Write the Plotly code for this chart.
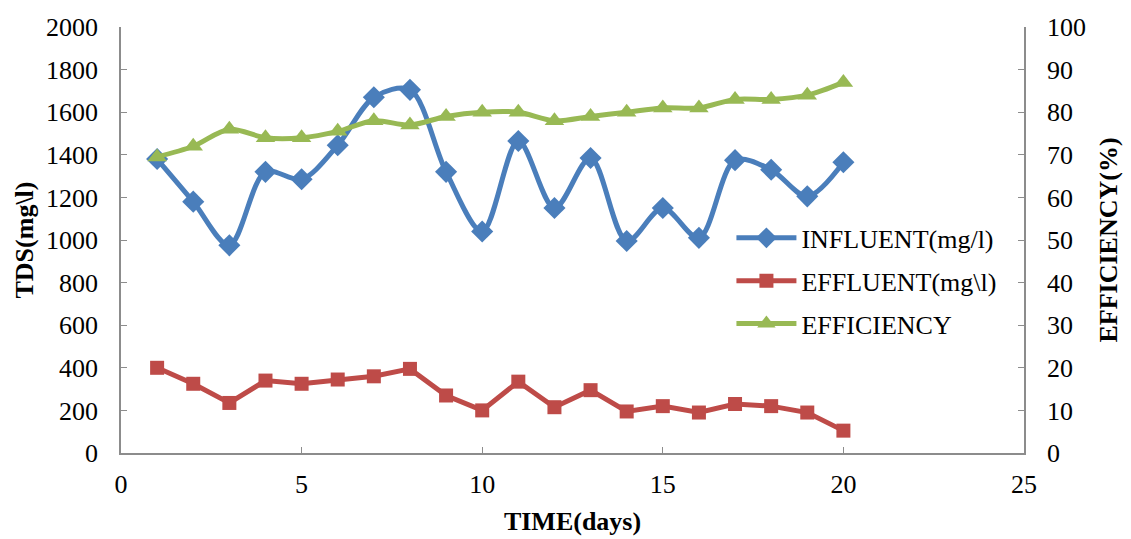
import plotly.graph_objects as go

# Daily TDS measurements and removal efficiency
days = list(range(1, 21))
influent = [1380, 1180, 975, 1320, 1285, 1445, 1670, 1705, 1320, 1040,
            1465, 1150, 1385, 995, 1150, 1010, 1375, 1330, 1205, 1365]
effluent = [400, 325, 235, 340, 325, 345, 360, 395, 270, 200,
            335, 215, 295, 195, 220, 190, 230, 220, 190, 105]
efficiency = [69.5, 72, 76, 74, 74, 75.5, 78, 77, 79, 80,
              80, 78, 79, 80, 81, 81, 83, 83, 84, 87]

FONT = "Liberation Serif, Times New Roman, DejaVu Serif, serif"
AXIS_GREY = "#8c8c8c"
FS = 26

fig = go.Figure()

fig.add_trace(go.Scatter(
    x=days, y=influent, name="INFLUENT(mg/l)", legendgroup="a",
    mode="lines+markers",
    line=dict(color="#4a7ebb", width=5, shape="spline", smoothing=0.9),
    marker=dict(symbol="diamond", size=17, color="#4a7ebb"),
))
fig.add_trace(go.Scatter(
    x=days, y=effluent, name="EFFLUENT(mg\\l)", legendgroup="b",
    mode="lines+markers",
    line=dict(color="#be4b48", width=5),
    marker=dict(symbol="square", size=14, color="#be4b48"),
))
fig.add_trace(go.Scatter(
    x=days, y=efficiency, name="EFFICIENCY", legendgroup="c",
    mode="lines+markers", yaxis="y2",
    line=dict(color="#98b954", width=5, shape="spline", smoothing=0.9),
    marker=dict(symbol="triangle-up", size=17, color="#98b954"),
))

axis_common = dict(
    showgrid=False, zeroline=False, automargin=False,
    showline=True, linecolor=AXIS_GREY, linewidth=1.5,
    ticks="inside", ticklen=6, tickcolor=AXIS_GREY,
    tickfont=dict(family=FONT, size=FS),
)

fig.update_layout(
    width=1131, height=539,
    margin=dict(l=121, r=107, t=27, b=86),
    paper_bgcolor="white", plot_bgcolor="white",
    font=dict(family=FONT, size=FS, color="black"),
    showlegend=True,
    legend=dict(
        x=0.676, y=0.56, xanchor="left", yanchor="top",
        bgcolor="rgba(0,0,0,0)", font=dict(family=FONT, size=FS),
        itemwidth=60, traceorder="grouped", tracegroupgap=6,
    ),
    xaxis=dict(
        range=[0, 25], dtick=5, tick0=0, ticklabelstandoff=7,
        title=dict(text="<b>TIME(days)</b>", font=dict(family=FONT, size=FS), standoff=14),
        **axis_common,
    ),
    yaxis=dict(
        range=[0, 2000], dtick=200, ticklabelstandoff=16,
        title=dict(text="<b>TDS(mg\\l)</b>", font=dict(family=FONT, size=FS), standoff=5),
        **axis_common,
    ),
    yaxis2=dict(
        range=[0, 100], dtick=10, overlaying="y", side="right", ticklabelstandoff=16,
        title=dict(text="<b>EFFICIENCY(%)</b>", font=dict(family=FONT, size=FS), standoff=14),
        **axis_common,
    ),
)

fig.write_html("out.html")
